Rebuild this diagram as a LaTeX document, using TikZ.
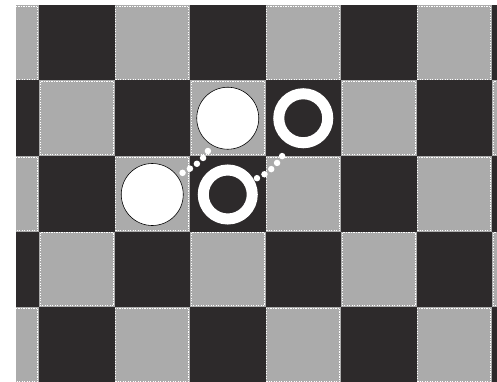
\documentclass[tikz,border=0pt]{standalone}
\begin{document}
\begin{tikzpicture}[x=1pt,y=1pt]
  \definecolor{dk}{HTML}{2D2A2B}
  \definecolor{lt}{HTML}{ABABAB}
  \tikzset{
    whitestone/.style={circle,inner sep=0pt,minimum size=62pt,fill=white,draw=black,line width=0.6pt},
    ringstone/.style={circle,inner sep=0pt,minimum size=49pt,fill=dk,draw=white,line width=11pt},
    dotline/.style={white,line width=6.5pt,line cap=round,dash pattern=on 0pt off 8.5pt}
  }
  \fill[white] (0,0) rectangle (497,-382);
  \useasboundingbox (0,0) rectangle (497,-382);
  % board: dark ground, grey squares on top
  \begin{scope}
    \clip (16,-5) rectangle (497,-382);
    \fill[dk] (16,-5) rectangle (497,-382);
    \foreach \r in {0,...,4} {
      \foreach \c in {-1,1,3,5} {
        \pgfmathsetmacro{\x}{39+75.5*(\c+mod(\r,2))}
        \pgfmathsetmacro{\y}{-5-75.5*\r}
        \fill[lt] (\x,\y) rectangle ++(75.5,-75.5);
        \draw[white,line width=1.3pt,dash pattern=on 1.2pt off 1.3pt] (\x+1.2,\y-1.2) rectangle ++(73.1,-73.1);
      }
    }
  \end{scope}
  % stones
  \node[whitestone] (w1) at (152.25,-194.5) {};
  \node[whitestone] (w2) at (227.75,-118.25) {};
  \node[ringstone] (r1) at (227.75,-194.5) {};
  \node[ringstone] (r2) at (303.25,-118.25) {};
  % dotted links
  \draw[dotline,shorten <=6pt,shorten >=6pt] (w1.37) to[out=28,in=-117] (w2.238);
  \draw[dotline,shorten <=3.5pt,shorten >=7.5pt] (r1.30) to[out=22,in=-124] (r2.243);
\end{tikzpicture}
\end{document}
